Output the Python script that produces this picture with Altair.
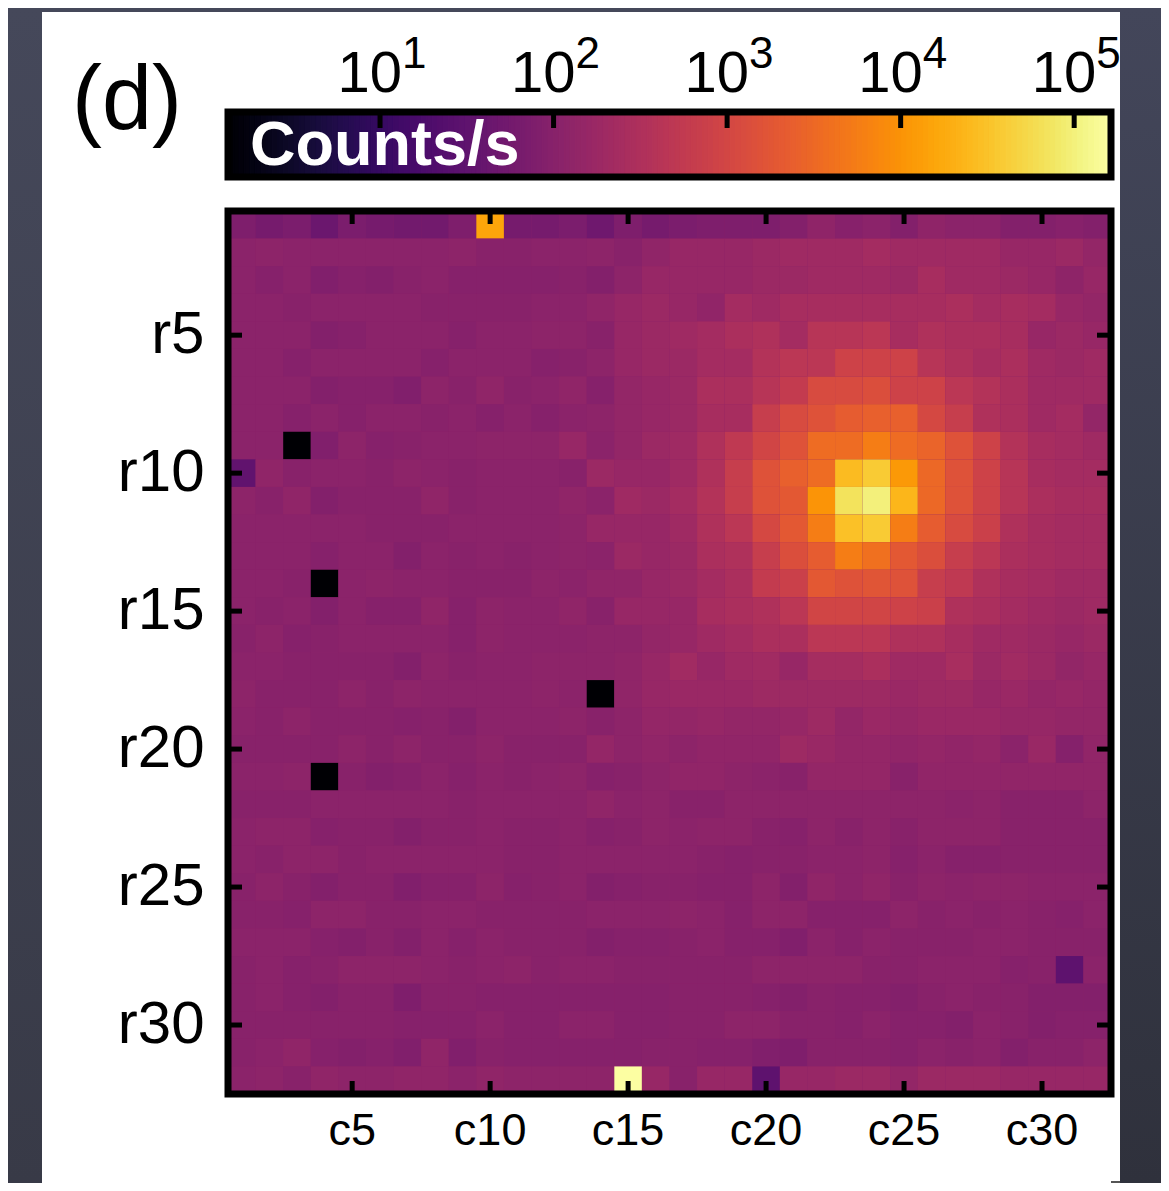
import altair as alt
import numpy as np
import pandas as pd

FONT = "Liberation Sans"

r01 = [79,63,71,45,71,63,56,56,79,15700,63,63,71,50,79,63,71,79,79,79,89,127,100,113,89,127,113,113,89,89,100,89]
r02 = [113,122,113,113,113,113,113,113,122,105,105,113,113,122,105,132,161,161,161,182,204,204,204,230,204,204,204,204,161,161,182,143]
r03 = [113,98,113,85,98,90,105,113,98,98,98,98,105,90,122,161,161,161,161,182,182,204,204,204,182,259,204,204,182,161,125,161]
r04 = [113,113,105,113,113,113,113,105,105,105,105,113,113,132,161,182,161,135,230,204,259,259,259,259,259,259,292,230,259,230,161,143]
r05 = [113,113,113,90,98,113,113,113,98,113,113,122,122,105,161,182,204,230,292,329,230,417,417,470,259,329,292,292,259,161,182,161]
r06 = [113,113,98,113,113,113,113,98,113,113,113,98,105,122,161,182,182,230,230,370,470,470,850,850,850,417,329,259,292,204,182,204]
r07 = [113,113,113,90,98,98,85,122,105,132,105,113,132,98,143,161,182,292,292,417,595,1210,1210,1370,850,850,470,370,292,204,204,204]
r08 = [113,113,98,113,98,113,113,105,113,98,113,98,113,122,143,161,182,259,259,670,1210,1540,2200,2480,2480,1080,670,329,292,204,230,143]
r09 = [113,113,1,85,122,98,105,113,113,122,122,122,161,113,143,182,204,329,530,957,1540,3540,3540,5700,3540,2790,1540,850,370,259,230,204]
r10 = [34,132,105,113,113,105,122,113,105,113,113,113,105,182,161,161,204,329,670,1540,2480,3540,26800,38300,11600,3140,1540,850,417,259,230,230]
r11 = [122,105,132,90,105,105,105,132,105,113,113,113,132,113,204,182,230,370,670,1540,1950,10300,69700,99700,23800,3140,1540,850,417,292,259,259]
r12 = [113,113,113,113,113,105,105,105,113,113,113,113,122,161,161,161,204,329,470,1080,1950,5700,30200,38300,5700,2200,1210,755,329,259,230,230]
r13 = [113,113,113,98,113,113,90,113,105,113,105,113,122,113,182,161,182,292,329,670,1370,2200,5700,3990,1950,1370,670,470,292,259,230,230]
r14 = [113,113,105,1,113,122,113,113,105,105,105,122,113,132,132,161,182,230,292,595,755,1950,1540,1730,1540,670,530,329,259,230,204,204]
r15 = [113,105,113,90,113,98,98,132,98,122,113,113,132,105,161,161,161,259,292,329,470,957,957,957,850,755,329,292,230,204,182,204]
r16 = [105,122,98,105,113,113,113,113,98,122,113,113,113,122,122,143,161,204,230,292,292,470,470,470,329,329,259,204,204,182,161,182]
r17 = [113,113,105,105,105,105,90,122,105,113,113,122,122,122,132,161,215,161,204,215,161,240,240,290,204,204,260,182,215,182,140,161]
r18 = [122,105,105,105,122,105,122,113,113,113,113,122,113,1,132,161,175,175,175,190,190,190,190,190,175,190,190,161,175,150,161,150]
r19 = [113,105,122,105,105,105,98,105,90,113,113,113,122,105,122,150,143,155,143,143,155,190,143,175,155,175,175,175,155,155,143,143]
r20 = [105,105,105,105,122,105,122,105,105,122,105,105,105,150,122,135,122,135,135,135,190,170,150,150,135,150,135,150,113,170,95,135]
r21 = [113,113,122,1,105,90,98,113,98,113,105,113,122,98,105,122,135,135,122,113,105,150,150,150,105,135,135,135,135,135,135,135]
r22 = [105,105,105,113,113,113,113,113,105,113,113,113,113,132,113,122,105,105,122,122,122,122,122,122,122,122,113,122,105,105,105,122]
r23 = [113,122,122,98,105,105,90,105,105,113,105,105,113,98,105,122,113,122,122,105,98,122,105,122,105,122,122,122,105,105,105,105]
r24 = [113,105,122,122,105,113,113,113,113,113,105,105,113,113,113,113,113,105,98,105,105,113,113,122,98,113,98,98,105,105,105,105]
r25 = [105,122,105,90,105,105,85,98,98,122,98,105,113,90,98,105,105,98,98,122,90,132,113,132,105,122,113,122,122,113,113,113]
r26 = [105,105,98,122,122,105,105,113,113,105,105,105,105,113,113,113,122,113,98,122,122,98,98,98,122,105,113,105,113,105,98,113]
r27 = [113,113,113,98,90,105,90,113,98,113,105,105,105,90,98,98,105,113,98,98,85,113,98,113,105,105,105,113,113,105,105,105]
r28 = [105,113,98,105,122,122,122,113,105,113,122,105,113,113,105,105,105,105,105,122,122,122,122,105,105,113,113,113,98,105,31,113]
r29 = [105,113,98,90,105,105,80,105,105,98,98,98,98,98,98,98,105,105,105,98,90,105,98,98,90,105,113,105,105,90,90,90]
r30 = [105,105,105,105,105,105,98,98,98,113,98,98,113,113,98,98,105,105,122,122,105,105,98,113,98,98,90,113,105,90,98,98]
r31 = [105,113,132,98,90,98,85,132,85,105,98,98,98,98,98,105,105,98,98,85,80,105,105,105,98,113,105,113,90,105,105,122]
r32 = [113,122,105,132,122,122,132,132,113,132,122,122,122,122,160000,161,105,161,161,31,161,161,182,182,143,182,182,182,161,161,161,161]
rows = [r01,r02,r03,r04,r05,r06,r07,r08,r09,r10,r11,r12,r13,r14,r15,r16,
        r17,r18,r19,r20,r21,r22,r23,r24,r25,r26,r27,r28,r29,r30,r31,r32]

col_names = [f"c{i}" for i in range(1, 33)]
row_names = [f"r{i}" for i in range(1, 33)]
col_ticks = ["c5", "c10", "c15", "c20", "c25", "c30"]
row_ticks = ["r5", "r10", "r15", "r20", "r25", "r30"]
bar_ticks = [10, 100, 1000, 10000, 100000]
bar_exponents = ["1", "2", "3", "4", "5"]

W = H = 883
DOMAIN = [1.33, 163000]

cells = pd.DataFrame(
    [{"col": c, "row": r, "v": rows[i][j]} for i, r in enumerate(row_names) for j, c in enumerate(col_names)]
)
edges = np.geomspace(DOMAIN[0], DOMAIN[1], 161)
bands = pd.DataFrame({"lo": edges[:-1], "hi": edges[1:], "mid": np.sqrt(edges[:-1] * edges[1:])})
bar_labels = pd.DataFrame({"v": bar_ticks, "e": bar_exponents})

color_scale = alt.Scale(type="log", domain=DOMAIN, scheme="inferno", clamp=True)
x_band = alt.Scale(domain=col_names, paddingInner=0, paddingOuter=0)
y_band = alt.Scale(domain=row_names, paddingInner=0, paddingOuter=0)
x_log = alt.Scale(type="log", domain=DOMAIN, nice=False)

one = alt.Data(values=[{"a": 1}])


def box(x, x2, y, y2, **mark):
    return alt.Chart(one).mark_rect(**mark).encode(
        x=alt.value(x), x2=alt.value(x2), y=alt.value(y), y2=alt.value(y2)
    )


def label(text, x, y, size, **mark):
    return alt.Chart(one).mark_text(text=text, font=FONT, fontSize=size, align="left", **mark).encode(
        x=alt.value(x), y=alt.value(y)
    )


backdrop = box(-220, 933, -203, 972, color=alt.LinearGradient(
    gradient="linear", x1=0, x2=0, y1=0, y2=1,
    stops=[alt.GradientStop(color="#45485a", offset=0), alt.GradientStop(color="#383a47", offset=1)]))
panel = box(-186, 892, -199, 972, color="white")
underlay = box(0, W, 0, H, color="#8a226a")

heat = alt.Chart(cells).mark_rect().encode(
    x=alt.X("col:N", scale=x_band, title=None,
            axis=alt.Axis(values=col_ticks, ticks=False, tickSize=0, domain=False, grid=False, labelAngle=0,
                          labelFont=FONT, labelFontSize=45, labelColor="black", labelPadding=14)),
    y=alt.Y("row:N", scale=y_band, title=None,
            axis=alt.Axis(values=row_ticks, ticks=False, tickSize=0, domain=False, grid=False,
                          labelFont=FONT, labelFontSize=60, labelColor="black", labelPadding=24)),
    color=alt.Color("v:Q", scale=color_scale, legend=None),
)


def xticks(y, y2):
    return alt.Chart(pd.DataFrame({"col": col_ticks})).mark_rule(color="black", strokeWidth=5).encode(
        x=alt.X("col:N", scale=x_band, axis=None), y=alt.value(y), y2=alt.value(y2))


def yticks(x, x2):
    return alt.Chart(pd.DataFrame({"row": row_ticks})).mark_rule(color="black", strokeWidth=5).encode(
        y=alt.Y("row:N", scale=y_band, axis=None), x=alt.value(x), x2=alt.value(x2))


frame = box(0, W, 0, H, fillOpacity=0, stroke="black", strokeWidth=7)

bar = alt.Chart(bands).mark_rect(strokeWidth=1.2).encode(
    x=alt.X("lo:Q", scale=x_log, axis=None),
    x2=alt.X2("hi:Q"),
    y=alt.value(-99),
    y2=alt.value(-34),
    color=alt.Color("mid:Q", scale=color_scale, legend=None),
    stroke=alt.Stroke("mid:Q", scale=color_scale, legend=None),
)
bar_frame = box(0, W, -99, -34, fillOpacity=0, stroke="black", strokeWidth=7)
bar_tick = alt.Chart(bar_labels).mark_rule(color="black", strokeWidth=5).encode(
    x=alt.X("v:Q", scale=x_log, axis=None), y=alt.value(-99), y2=alt.value(-83))
bar_base = alt.Chart(bar_labels).mark_text(
    text="10", font=FONT, fontSize=58, align="right", baseline="alphabetic", dx=22, color="black"
).encode(x=alt.X("v:Q", scale=x_log, axis=None), y=alt.value(-119))
bar_exp = alt.Chart(bar_labels).mark_text(
    font=FONT, fontSize=44, align="left", baseline="alphabetic", dx=22, color="black"
).encode(x=alt.X("v:Q", scale=x_log, axis=None), y=alt.value(-143), text="e:N")

title_d = label("(d)", -156, -82, 90, baseline="alphabetic", color="black")
bar_title = label("Counts/s", 22, -46, 63, baseline="alphabetic", color="white", fontWeight="bold")

corner = box(884, 910, 971, 990, fillOpacity=0, stroke="#555555", strokeWidth=2)
right_strip = box(892, 933, -203, 972, color=alt.LinearGradient(
    gradient="linear", x1=0, x2=0, y1=0, y2=1,
    stops=[alt.GradientStop(color="#43465a", offset=0), alt.GradientStop(color="#2f313c", offset=1)]))

chart = alt.layer(
    backdrop, panel, underlay, heat,
    xticks(0, 13), xticks(H, H - 13), yticks(0, 14), yticks(W, W - 14),
    frame,
    bar, bar_frame, bar_tick, bar_base, bar_exp,
    title_d, bar_title, corner, right_strip,
).resolve_scale(x="independent", y="independent", color="independent", stroke="independent").properties(
    width=W,
    height=H,
    background="#3f4250",
    padding={"left": 220, "top": 203, "right": 50, "bottom": 89},
    autosize=alt.AutoSizeParams(type="none"),
).configure_view(strokeWidth=0)

chart.save("out.html", embed_options={"renderer": "svg", "actions": False})
